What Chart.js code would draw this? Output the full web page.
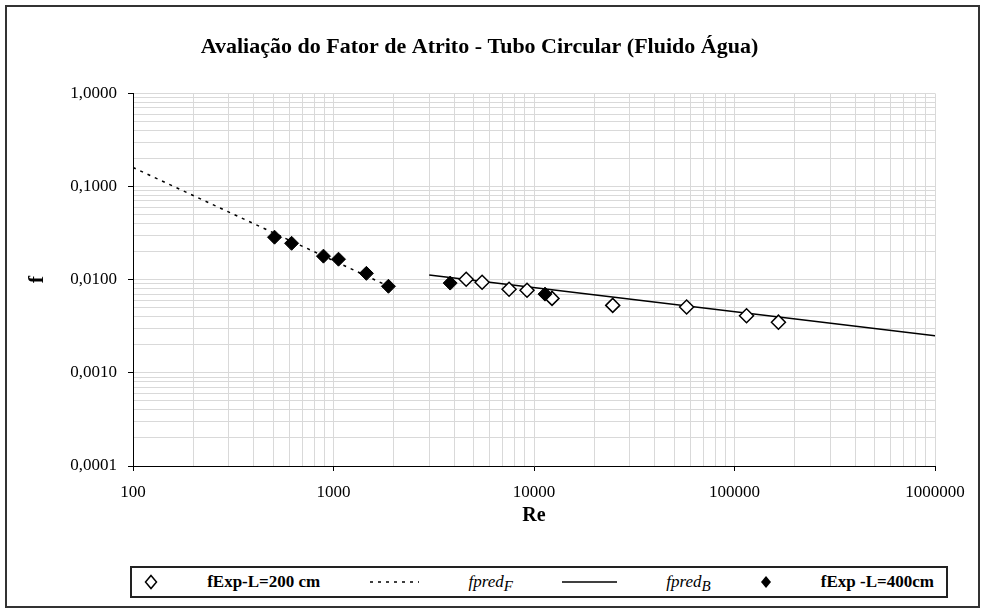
<!DOCTYPE html>
<html>
<head>
<meta charset="utf-8">
<script src="https://cdn.jsdelivr.net/npm/chart.js@4"></script>
<style>
  body { margin: 0; background: #fff; }
  #wrap { position: relative; width: 985px; height: 612px; }
  #frame { position: absolute; left: 5px; top: 5px; width: 975px; height: 603px; border: 2px solid #333; box-sizing: border-box; pointer-events: none; }
  #legend {
    position: absolute; left: 130px; top: 566px; width: 818px; height: 32px;
    border: 2px solid #222; box-sizing: border-box; background: #fff;
    display: flex; align-items: center; justify-content: space-between; padding: 0 12px 0 12px;
    font: bold 17px 'Liberation Serif', 'Times New Roman', serif; color: #000;
  }
  #legend .it { display: flex; align-items: center; }
  #legend i { font-weight: normal; font-size: 17px; }
  #legend sub { font-size: 15px; vertical-align: -4px; line-height: 0; }
  #legend svg { display: block; }
</style>
</head>
<body>
<div id="wrap">
  <canvas id="chart" width="985" height="612"></canvas>
  <div id="frame"></div>
  <div id="legend">
    <span class="it"><svg width="14" height="16"><polygon points="7,1.5 12.5,8 7,14.5 1.5,8" fill="#fff" stroke="#000" stroke-width="1.5"/></svg></span>
    <span class="it">fExp-L=200 cm</span>
    <span class="it"><svg width="50" height="6"><line x1="1" y1="3" x2="50" y2="3" stroke="#000" stroke-width="1.5" stroke-dasharray="3,5"/></svg></span>
    <span class="it"><i>fpred<sub>F</sub></i></span>
    <span class="it"><svg width="55" height="6"><line x1="0" y1="3" x2="55" y2="3" stroke="#000" stroke-width="1.5"/></svg></span>
    <span class="it"><i>fpred<sub>B</sub></i></span>
    <span class="it"><svg width="12" height="14"><polygon points="6,1 11,7 6,13 1,7" fill="#000"/></svg></span>
    <span class="it">fExp -L=400cm</span>
  </div>
</div>
<script>
// experimental points, L = 200 cm (open diamonds)
const reExp200 = [4590, 5510, 7510, 9230, 12300, 24700, 57700, 114800, 165600];
const fExp200 = [0.0101, 0.0094, 0.0079, 0.0077, 0.0063, 0.0053, 0.0051, 0.0041, 0.0035];
// experimental points, L = 400 cm (filled diamonds)
const reExp400 = [508, 618, 891, 1059, 1459, 1879, 3819, 11350];
const fExp400 = [0.0286, 0.0246, 0.0179, 0.0166, 0.0117, 0.0085, 0.0092, 0.0070];
// predicted curves
const rePredF = [100, 2000];
const fPredF = [0.16, 0.008];
const rePredB = [3000, 1000000];
const fPredB = [0.0112, 0.0025];
// axis decades and labels
const xDecades = [100, 1000, 10000, 100000, 1000000];
const xTickLabels = ['100', '1000', '10000', '100000', '1000000'];
const yDecades = [0.0001, 0.001, 0.01, 0.1, 1];
const yTickLabels = ['0,0001', '0,0010', '0,0100', '0,1000', '1,0000'];

const toPts = (xs, ys) => xs.map((x, i) => ({ x: x, y: ys[i] }));

function logTicks(decades) {
  const out = [];
  decades.forEach((d, i) => {
    if (i === decades.length - 1) { out.push({ value: d }); return; }
    for (let k = 1; k <= 9; k++) out.push({ value: k * d });
  });
  return out;
}
function majorIndex(decades, v) {
  return decades.findIndex(d => Math.abs(v / d - 1) < 1e-6);
}

Chart.defaults.font.family = "'Liberation Serif', 'Times New Roman', serif";
Chart.defaults.color = '#000';

const gridColor = '#d9d9d9';

new Chart(document.getElementById('chart'), {
  type: 'scatter',
  data: {
    datasets: [
      {
        label: 'fExp -L=400cm',
        data: toPts(reExp400, fExp400),
        pointStyle: 'rectRot',
        pointRadius: 7,
        backgroundColor: '#000',
        borderColor: '#000',
        borderWidth: 1,
        order: 0
      },
      {
        label: 'fExp-L=200 cm',
        data: toPts(reExp200, fExp200),
        pointStyle: 'rectRot',
        pointRadius: 7,
        backgroundColor: '#fff',
        borderColor: '#000',
        borderWidth: 1.5,
        order: 1
      },
      {
        label: 'fpredB',
        data: toPts(rePredB, fPredB),
        showLine: true,
        pointRadius: 0,
        borderColor: '#000',
        borderWidth: 1.5,
        order: 2
      },
      {
        label: 'fpredF',
        data: toPts(rePredF, fPredF),
        showLine: true,
        pointRadius: 0,
        borderColor: '#000',
        borderWidth: 1.5,
        borderDash: [3, 5],
        order: 3
      }
    ]
  },
  options: {
    responsive: false,
    animation: false,
    layout: { padding: { left: 24, right: 50, top: 0, bottom: 67 } },
    plugins: {
      legend: { display: false },
      tooltip: { enabled: false },
      title: {
        display: true,
        text: 'Avaliação do Fator de Atrito - Tubo Circular (Fluido Água)',
        font: { size: 22, weight: 'bold' },
        color: '#000',
        padding: { top: 34, bottom: 33 }
      }
    },
    scales: {
      x: {
        type: 'logarithmic',
        min: 100,
        max: 1000000,
        afterBuildTicks: s => { s.ticks = logTicks(xDecades); },
        afterFit: s => { s.height = 79; },
        border: { color: '#000', width: 1 },
        grid: {
          color: gridColor,
          tickLength: 5,
          tickColor: c => (c.tick && majorIndex(xDecades, c.tick.value) >= 0) ? '#000' : 'rgba(0,0,0,0)'
        },
        ticks: {
          autoSkip: false,
          maxRotation: 0,
          padding: 11,
          font: { size: 17 },
          callback: v => { const i = majorIndex(xDecades, v); return i >= 0 ? xTickLabels[i] : ''; }
        },
        title: {
          display: true,
          text: 'Re',
          font: { size: 20, weight: 'bold' },
          padding: { top: 6, bottom: 17 }
        }
      },
      y: {
        type: 'logarithmic',
        min: 0.0001,
        max: 1,
        afterBuildTicks: s => { s.ticks = logTicks(yDecades); },
        afterFit: s => { s.width = 109; },
        border: { color: '#000', width: 1 },
        grid: {
          color: gridColor,
          tickLength: 5,
          tickColor: c => (c.tick && majorIndex(yDecades, c.tick.value) >= 0) ? '#000' : 'rgba(0,0,0,0)'
        },
        ticks: {
          autoSkip: false,
          padding: 11,
          font: { size: 17 },
          callback: v => { const i = majorIndex(yDecades, v); return i >= 0 ? yTickLabels[i] : ''; }
        },
        title: {
          display: true,
          text: 'f',
          font: { size: 22, weight: 'bold' },
          padding: { top: 0, bottom: 0 }
        }
      }
    }
  }
});
</script>
</body>
</html>
